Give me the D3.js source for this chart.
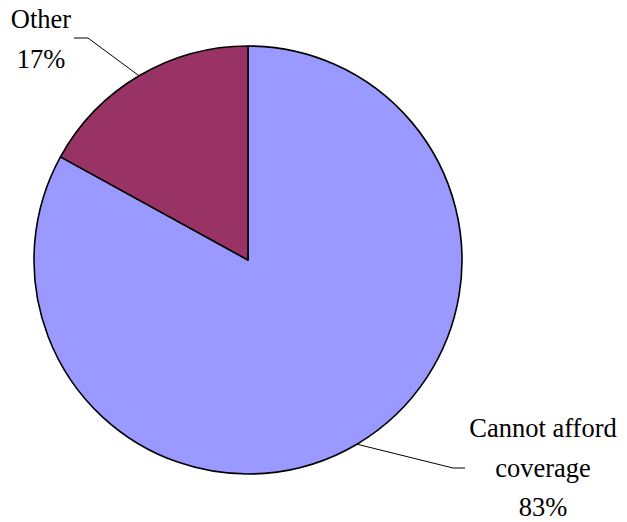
<!DOCTYPE html>
<html><head><meta charset="utf-8">
<script src="https://cdn.jsdelivr.net/npm/d3@7"></script>
<style>html,body{margin:0;padding:0;background:#fff;}
.lbl{font-family:"Liberation Serif","Times New Roman",Times,"DejaVu Serif",serif;}</style>
</head><body>
<svg id="c" width="627" height="522"></svg>
<script>
const categories = ["Cannot afford coverage", "Other"];
const labelLines = [["Cannot afford", "coverage"], ["Other"]];
const values = [83, 17];
const colors = ["#9999FF", "#993366"];

const svg = d3.select("#c");
const cx = 248, cy = 260, r = 214;
const g = svg.append("g").attr("transform", `translate(${cx},${cy})`);

const pie = d3.pie().sort(null).value(d => d)(values);
const arc = d3.arc().innerRadius(0).outerRadius(r);

g.selectAll("path.slice").data(pie).enter().append("path")
  .attr("class", "slice")
  .attr("d", arc)
  .attr("fill", (d, i) => colors[i])
  .attr("stroke", "#000")
  .attr("stroke-width", 1.6)
  .attr("stroke-linejoin", "round");

const layout = [
  {elbow: [453 - cx, 468 - cy], end: [465 - cx, 468 - cy], tx: 543 - cx, ty: 437 - cy},
  {elbow: [88 - cx, 38 - cy], end: [74 - cx, 38 - cy], tx: 41 - cx, ty: 28 - cy}
];
const total = d3.sum(values);
const lineH = 39.5;

pie.forEach((d, i) => {
  const a = (d.startAngle + d.endAngle) / 2;
  const p0 = [r * Math.sin(a), -r * Math.cos(a)];
  const L = layout[i];
  g.append("polyline")
    .attr("points", [p0, L.elbow, L.end].map(p => p.join(",")).join(" "))
    .attr("fill", "none").attr("stroke", "#000").attr("stroke-width", 1);
  const lines = labelLines[i].concat([Math.round(d.value / total * 100) + "%"]);
  const t = g.append("text")
    .attr("class", "lbl")
    .attr("text-anchor", "middle")
    .attr("font-size", 26.5)
    .attr("fill", "#000");
  lines.forEach((s, k) => {
    t.append("tspan").attr("x", L.tx).attr("y", L.ty + k * lineH).text(s);
  });
});
</script>
</body></html>
